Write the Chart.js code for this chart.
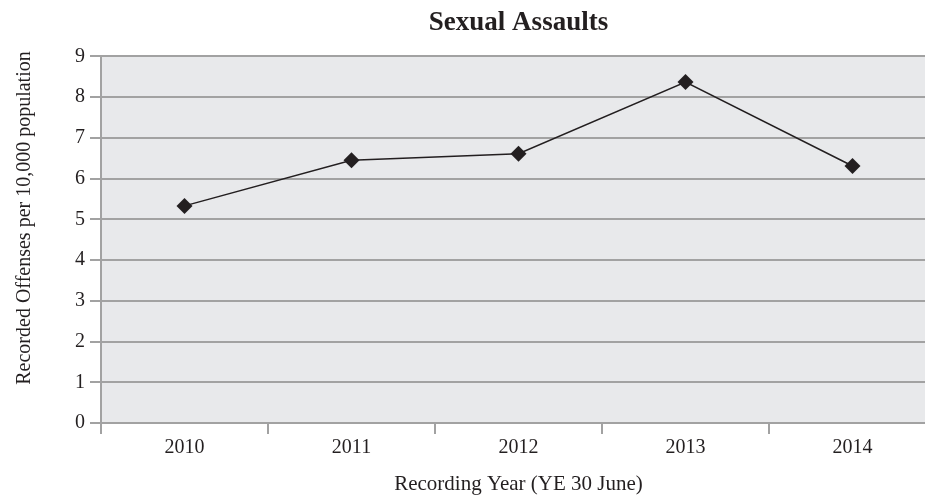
<!DOCTYPE html>
<html>
<head>
<meta charset="utf-8">
<title>Sexual Assaults</title>
<script src="https://cdn.jsdelivr.net/npm/chart.js@4.4.1/dist/chart.umd.min.js"></script>
<style>
    html, body {
        margin: 0;
        padding: 0;
        background: #ffffff;
        overflow: hidden;
    }
    #chart-wrap {
        width: 944px;
        height: 502px;
    }
    #assault-chart {
        width: 944px;
        height: 502px;
    }
</style>
</head>
<body>
<div id="chart-wrap">
    <canvas id="assault-chart" width="944" height="502"></canvas>
</div>
<script>
// Chart data
const years = ['2010', '2011', '2012', '2013', '2014'];
const offenseRates = [5.33, 6.45, 6.61, 8.37, 6.31];
const yTicks = [0, 1, 2, 3, 4, 5, 6, 7, 8, 9];
const yAxisTitle = 'Recorded Offenses per 10,000 population';

const gridGray = '#a2a2a2';
const inkColor = '#231f20';
const serif = "'Liberation Serif', 'Times New Roman', serif";

// Fill the plot area with a light grey background
const plotBackground = {
    id: 'plotBackground',
    beforeDraw(chart) {
        const { ctx, chartArea } = chart;
        ctx.save();
        ctx.fillStyle = '#e8e9eb';
        ctx.fillRect(chartArea.left, chartArea.top, chartArea.right - chartArea.left, chartArea.bottom - chartArea.top);
        ctx.restore();
    }
};

// Vertical y axis title, sitting a little above the middle of the plot
const yTitle = {
    id: 'yTitle',
    afterDraw(chart) {
        const { ctx } = chart;
        ctx.save();
        ctx.translate(25, 218);
        ctx.rotate(-Math.PI / 2);
        ctx.font = '20px ' + serif;
        ctx.fillStyle = inkColor;
        ctx.textAlign = 'center';
        ctx.textBaseline = 'middle';
        ctx.fillText(yAxisTitle, 0, 0);
        ctx.restore();
    }
};

const ctx = document.getElementById('assault-chart').getContext('2d');
const assaultChart = new Chart(ctx, {
    type: 'line',
    data: {
        labels: years,
        datasets: [{
            label: 'Sexual Assaults',
            data: offenseRates,
            borderColor: inkColor,
            borderWidth: 1.5,
            backgroundColor: inkColor,
            pointStyle: 'rectRot',
            pointRadius: 8,
            pointHoverRadius: 8,
            pointBackgroundColor: inkColor,
            pointBorderColor: inkColor,
            pointBorderWidth: 0,
            tension: 0
        }]
    },
    options: {
        responsive: false,
        animation: false,
        layout: {
            padding: { left: 0, right: 0, top: 0, bottom: 0 }
        },
        plugins: {
            legend: { display: false },
            tooltip: { enabled: false },
            title: {
                display: true,
                text: 'Sexual Assaults',
                fullSize: false,
                color: inkColor,
                font: { family: serif, size: 27, weight: 'bold', lineHeight: 1.2 },
                padding: { top: 7, bottom: 17 }
            }
        },
        scales: {
            x: {
                offset: true,
                grid: {
                    offset: true,
                    drawOnChartArea: false,
                    drawTicks: true,
                    tickLength: 11,
                    color: gridGray,
                    lineWidth: 2
                },
                border: { display: true, color: gridGray, width: 2 },
                ticks: {
                    color: inkColor,
                    padding: 2,
                    maxRotation: 0,
                    font: { family: serif, size: 20 }
                },
                title: {
                    display: true,
                    text: 'Recording Year (YE 30 June)',
                    color: inkColor,
                    font: { family: serif, size: 21, lineHeight: 1.2 },
                    padding: { top: 0, bottom: 5 }
                },
                afterFit(scale) {
                    scale.height = 79;
                }
            },
            y: {
                min: 0,
                max: 9,
                afterBuildTicks(scale) {
                    scale.ticks = yTicks.map(v => ({ value: v }));
                },
                grid: {
                    drawTicks: true,
                    tickLength: 11,
                    color: gridGray,
                    lineWidth: 2
                },
                border: { display: true, color: gridGray, width: 2 },
                ticks: {
                    color: inkColor,
                    padding: 5,
                    font: { family: serif, size: 20 }
                },
                title: { display: false },
                afterFit(scale) {
                    scale.width = 101;
                }
            }
        }
    },
    plugins: [plotBackground, yTitle]
});
</script>
</body>
</html>
